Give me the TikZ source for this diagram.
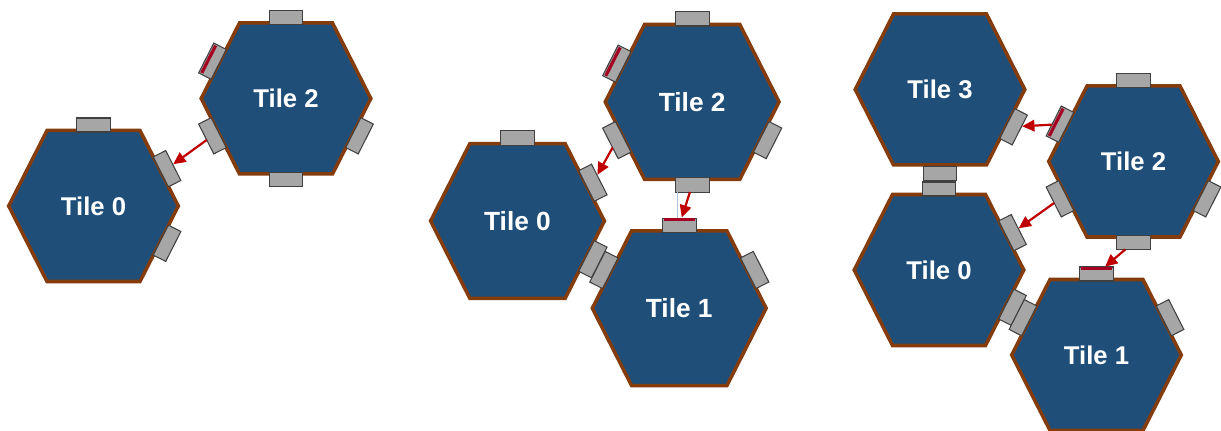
\documentclass[tikz,border=0pt]{standalone}
\usepackage{fontspec}
\setsansfont{Liberation Sans}
\usetikzlibrary{calc,arrows.meta}

\definecolor{tilefill}{HTML}{1F4E79}
\definecolor{tileborder}{HTML}{843C0C}
\definecolor{portfill}{HTML}{A6A6A6}
\definecolor{portborder}{HTML}{404040}
\definecolor{feedred}{HTML}{C00000}
\definecolor{flagred}{HTML}{A50021}
\definecolor{wireblue}{HTML}{A9C4E0}

\begin{document}
\begin{tikzpicture}[x=0.02cm,y=-0.02cm]
\tikzstyle{hex}=[draw=tileborder,line width=2pt,fill=tilefill]
\tikzstyle{tilename}=[text=white,font=\sffamily\bfseries\fontsize{14.6}{17}\selectfont]
\tikzstyle{port}=[rectangle,draw=portborder,fill=portfill,line width=0.6pt,minimum width=0.67cm,minimum height=0.28cm,inner sep=0pt,outer sep=0pt]
\tikzstyle{side n}=[port,yshift=1.62cm]
\tikzstyle{side s}=[port,rotate=180,yshift=1.62cm]
\tikzstyle{side ne}=[port,rotate=-63.1,yshift=1.65cm]
\tikzstyle{side se}=[port,rotate=-116.9,yshift=1.65cm]
\tikzstyle{side sw}=[port,rotate=116.9,yshift=1.65cm]
\tikzstyle{side nw}=[port,rotate=63.1,yshift=1.65cm]
\tikzstyle{feed}=[draw=feedred,line width=1.25pt,-{Triangle[length=7pt,width=6.5pt]},shorten >=0.3pt]
\tikzstyle{flag}=[draw=flagred,line width=1.8pt,shorten <=0.8pt,shorten >=0.8pt]
\tikzstyle{wire}=[draw=wireblue,line width=0.6pt]

\path[use as bounding box,clip] (0,0) rectangle (1221,431);

% two tiles
\foreach \t/\n/\x/\y in {g1t0/0/93.5/206, g1t2/2/286/98.5}{
  \draw[hex] (\x,\y) ++(-84.8,0) -- ++(38.3,-75.5) -- ++(93,0) -- ++(38.3,75.5) -- ++(-38.3,75.5) -- ++(-93,0) -- cycle;
  \node[tilename] (\t) at (\x,\y) {Tile \n};
}
\foreach \p in {n,ne,se} \node[side \p] (g1t0\p) at (g1t0) {};
\foreach \p in {n,nw,sw,se,s} \node[side \p] (g1t2\p) at (g1t2) {};
\draw[flag] ($(g1t2nw.north west)!.2!(g1t2nw.south west)$) -- ($(g1t2nw.north east)!.2!(g1t2nw.south east)$);
\draw[feed] (g1t2sw) -- (g1t0ne);

% three tiles
\begin{scope}[shift={(517.5,221)},scale=1.025,transform shape]
\foreach \t/\n/\x/\y in {g2t0/0/0/0, g2t2/2/170.4/-116.2, g2t1/1/157.8/85.1}{
  \draw[hex] (\x,\y) ++(-84.8,0) -- ++(38.3,-75.5) -- ++(93,0) -- ++(38.3,75.5) -- ++(-38.3,75.5) -- ++(-93,0) -- cycle;
  \node[tilename] (\t) at (\x,\y) {Tile \n};
}
\foreach \p in {n,ne,se} \node[side \p] (g2t0\p) at (g2t0) {};
\foreach \p in {n,nw,sw,se,s} \node[side \p] (g2t2\p) at (g2t2) {};
\foreach \p in {n,ne,nw} \node[side \p] (g2t1\p) at (g2t1) {};
\draw[flag] ($(g2t2nw.north west)!.2!(g2t2nw.south west)$) -- ($(g2t2nw.north east)!.2!(g2t2nw.south east)$);
\draw[flag] ($(g2t1n.north west)!.12!(g2t1n.south west)$) -- ($(g2t1n.north east)!.12!(g2t1n.south east)$);
\coordinate (w) at ($(g2t2s.north east)!.06!(g2t2s.north west)$);
\draw[wire] (w) -- (w |- g2t1n.north);
\draw[feed] (g2t2sw) -- (g2t0ne);
\draw[feed] (g2t2s) -- (g2t1n);
\end{scope}

% four tiles
\foreach \t/\n/\x/\y in {g3t3/3/940/89.5, g3t0/0/939/270, g3t2/2/1133.5/161.5, g3t1/1/1096.5/355}{
  \draw[hex] (\x,\y) ++(-84.8,0) -- ++(38.3,-75.5) -- ++(93,0) -- ++(38.3,75.5) -- ++(-38.3,75.5) -- ++(-93,0) -- cycle;
  \node[tilename] (\t) at (\x,\y) {Tile \n};
}
\node[side se] (g3t3se) at (g3t3) {};
\node[side s,yshift=0.06cm] (g3t3s) at (g3t3) {};
\foreach \p in {n,ne,se} \node[side \p] (g3t0\p) at (g3t0) {};
\foreach \p in {n,nw,sw,se,s} \node[side \p] (g3t2\p) at (g3t2) {};
\foreach \p in {n,ne,nw} \node[side \p] (g3t1\p) at (g3t1) {};
\draw[flag] ($(g3t2nw.north west)!.2!(g3t2nw.south west)$) -- ($(g3t2nw.north east)!.2!(g3t2nw.south east)$);
\draw[flag] ($(g3t1n.north west)!.12!(g3t1n.south west)$) -- ($(g3t1n.north east)!.12!(g3t1n.south east)$);
\draw[feed] (g3t2nw) -- (g3t3se);
\draw[feed] (g3t2sw) -- (g3t0ne);
\draw[feed] (g3t2s) -- (g3t1n);
\end{tikzpicture}
\end{document}
